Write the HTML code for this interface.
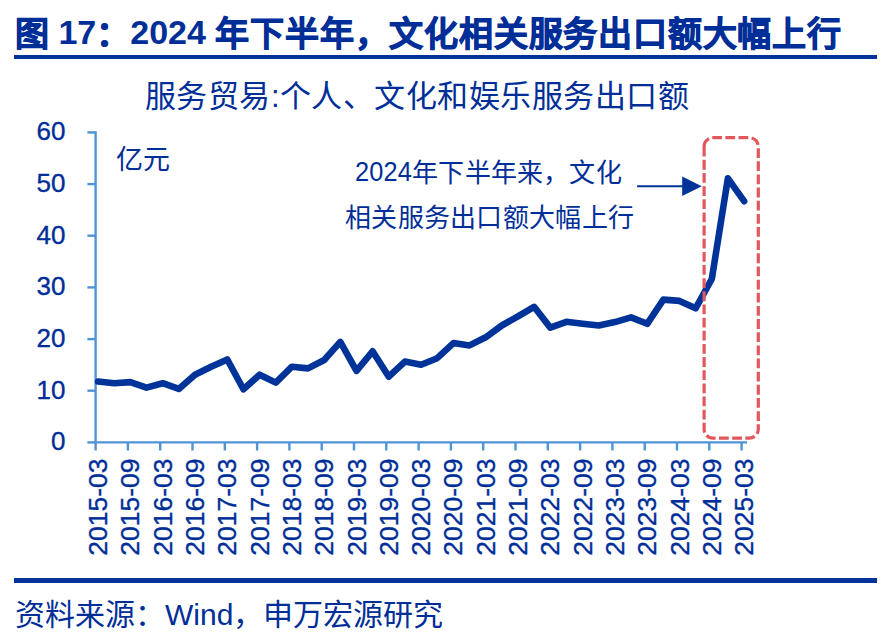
<!DOCTYPE html>
<html lang="zh-CN"><head><meta charset="utf-8"><style>
html,body{margin:0;padding:0;background:#fff;}
body{width:886px;height:644px;position:relative;overflow:hidden;font-family:"Liberation Sans",sans-serif;color:#002E98;}
.t{position:absolute;white-space:nowrap;line-height:1;}
svg text{font-family:"Liberation Sans",sans-serif;fill:#002E98;stroke:#002E98;stroke-width:0.35px;}
.yl{font-size:26px;}
.c{-webkit-text-stroke:0.9px #002E98;position:relative;top:2px;}
.xl{font-size:26.5px;}
</style></head><body>
<div class="t" style="left:15px;top:15px;font-size:34px;font-weight:bold;"><span class="c">图</span> 17<span class="c">：</span>2024 <span class="c" style="letter-spacing:0.8px">年下半年，文化相关服务出口额大幅上行</span></div>
<div style="position:absolute;left:14px;top:55px;width:863px;height:4px;background:#003399;"></div>
<div class="t" style="left:145px;top:81px;font-size:31px;letter-spacing:0.47px;">服务贸易:个人、文化和娱乐服务出口额</div>
<div class="t" style="left:116px;top:147px;font-size:27px;">亿元</div>
<div class="t" style="left:355px;top:157.5px;font-size:26px;letter-spacing:0.2px;"><span style="display:inline-block;font-size:28.5px;transform:scaleX(0.89);transform-origin:0 0;margin-right:-7px;position:relative;top:-1px">2024</span>年下半年来，文化</div>
<div class="t" style="left:345px;top:205px;font-size:26px;letter-spacing:0.3px;">相关服务出口额大幅上行</div>
<svg width="886" height="644" style="position:absolute;left:0;top:0;">
<line x1="95.6" y1="131.3" x2="95.6" y2="443.6" stroke="#5094D5" stroke-width="2.4"/>
<line x1="87.4" y1="442.4" x2="95.6" y2="442.4" stroke="#5094D5" stroke-width="2.4"/>
<text x="65.5" y="450.4" text-anchor="end" class="yl">0</text>
<line x1="87.4" y1="390.7" x2="95.6" y2="390.7" stroke="#5094D5" stroke-width="2.4"/>
<text x="65.5" y="398.7" text-anchor="end" class="yl">10</text>
<line x1="87.4" y1="339.1" x2="95.6" y2="339.1" stroke="#5094D5" stroke-width="2.4"/>
<text x="65.5" y="347.1" text-anchor="end" class="yl">20</text>
<line x1="87.4" y1="287.4" x2="95.6" y2="287.4" stroke="#5094D5" stroke-width="2.4"/>
<text x="65.5" y="295.4" text-anchor="end" class="yl">30</text>
<line x1="87.4" y1="235.7" x2="95.6" y2="235.7" stroke="#5094D5" stroke-width="2.4"/>
<text x="65.5" y="243.7" text-anchor="end" class="yl">40</text>
<line x1="87.4" y1="184.1" x2="95.6" y2="184.1" stroke="#5094D5" stroke-width="2.4"/>
<text x="65.5" y="192.1" text-anchor="end" class="yl">50</text>
<line x1="87.4" y1="132.4" x2="95.6" y2="132.4" stroke="#5094D5" stroke-width="2.4"/>
<text x="65.5" y="140.4" text-anchor="end" class="yl">60</text>
<line x1="94.4" y1="442.4" x2="747.1" y2="442.4" stroke="#5094D5" stroke-width="2.4"/>
<line x1="95.6" y1="442.4" x2="95.6" y2="450.5" stroke="#5094D5" stroke-width="2.4"/>
<text transform="translate(107.1,458.5) rotate(-90)" text-anchor="end" class="xl">2015-03</text>
<line x1="127.9" y1="442.4" x2="127.9" y2="450.5" stroke="#5094D5" stroke-width="2.4"/>
<text transform="translate(139.4,458.5) rotate(-90)" text-anchor="end" class="xl">2015-09</text>
<line x1="160.2" y1="442.4" x2="160.2" y2="450.5" stroke="#5094D5" stroke-width="2.4"/>
<text transform="translate(171.7,458.5) rotate(-90)" text-anchor="end" class="xl">2016-03</text>
<line x1="192.5" y1="442.4" x2="192.5" y2="450.5" stroke="#5094D5" stroke-width="2.4"/>
<text transform="translate(204.0,458.5) rotate(-90)" text-anchor="end" class="xl">2016-09</text>
<line x1="224.8" y1="442.4" x2="224.8" y2="450.5" stroke="#5094D5" stroke-width="2.4"/>
<text transform="translate(236.3,458.5) rotate(-90)" text-anchor="end" class="xl">2017-03</text>
<line x1="257.1" y1="442.4" x2="257.1" y2="450.5" stroke="#5094D5" stroke-width="2.4"/>
<text transform="translate(268.6,458.5) rotate(-90)" text-anchor="end" class="xl">2017-09</text>
<line x1="289.4" y1="442.4" x2="289.4" y2="450.5" stroke="#5094D5" stroke-width="2.4"/>
<text transform="translate(300.9,458.5) rotate(-90)" text-anchor="end" class="xl">2018-03</text>
<line x1="321.7" y1="442.4" x2="321.7" y2="450.5" stroke="#5094D5" stroke-width="2.4"/>
<text transform="translate(333.2,458.5) rotate(-90)" text-anchor="end" class="xl">2018-09</text>
<line x1="354.0" y1="442.4" x2="354.0" y2="450.5" stroke="#5094D5" stroke-width="2.4"/>
<text transform="translate(365.5,458.5) rotate(-90)" text-anchor="end" class="xl">2019-03</text>
<line x1="386.3" y1="442.4" x2="386.3" y2="450.5" stroke="#5094D5" stroke-width="2.4"/>
<text transform="translate(397.8,458.5) rotate(-90)" text-anchor="end" class="xl">2019-09</text>
<line x1="418.6" y1="442.4" x2="418.6" y2="450.5" stroke="#5094D5" stroke-width="2.4"/>
<text transform="translate(430.1,458.5) rotate(-90)" text-anchor="end" class="xl">2020-03</text>
<line x1="450.9" y1="442.4" x2="450.9" y2="450.5" stroke="#5094D5" stroke-width="2.4"/>
<text transform="translate(462.4,458.5) rotate(-90)" text-anchor="end" class="xl">2020-09</text>
<line x1="483.2" y1="442.4" x2="483.2" y2="450.5" stroke="#5094D5" stroke-width="2.4"/>
<text transform="translate(494.7,458.5) rotate(-90)" text-anchor="end" class="xl">2021-03</text>
<line x1="515.5" y1="442.4" x2="515.5" y2="450.5" stroke="#5094D5" stroke-width="2.4"/>
<text transform="translate(527.0,458.5) rotate(-90)" text-anchor="end" class="xl">2021-09</text>
<line x1="547.8" y1="442.4" x2="547.8" y2="450.5" stroke="#5094D5" stroke-width="2.4"/>
<text transform="translate(559.3,458.5) rotate(-90)" text-anchor="end" class="xl">2022-03</text>
<line x1="580.1" y1="442.4" x2="580.1" y2="450.5" stroke="#5094D5" stroke-width="2.4"/>
<text transform="translate(591.6,458.5) rotate(-90)" text-anchor="end" class="xl">2022-09</text>
<line x1="612.4" y1="442.4" x2="612.4" y2="450.5" stroke="#5094D5" stroke-width="2.4"/>
<text transform="translate(623.9,458.5) rotate(-90)" text-anchor="end" class="xl">2023-03</text>
<line x1="644.7" y1="442.4" x2="644.7" y2="450.5" stroke="#5094D5" stroke-width="2.4"/>
<text transform="translate(656.2,458.5) rotate(-90)" text-anchor="end" class="xl">2023-09</text>
<line x1="677.0" y1="442.4" x2="677.0" y2="450.5" stroke="#5094D5" stroke-width="2.4"/>
<text transform="translate(688.5,458.5) rotate(-90)" text-anchor="end" class="xl">2024-03</text>
<line x1="709.3" y1="442.4" x2="709.3" y2="450.5" stroke="#5094D5" stroke-width="2.4"/>
<text transform="translate(720.8,458.5) rotate(-90)" text-anchor="end" class="xl">2024-09</text>
<line x1="741.6" y1="442.4" x2="741.6" y2="450.5" stroke="#5094D5" stroke-width="2.4"/>
<text transform="translate(753.1,458.5) rotate(-90)" text-anchor="end" class="xl">2025-03</text>
<polyline points="98.1,381.5 114.2,383.2 130.4,382.1 146.5,387.6 162.7,383.2 178.8,388.9 195.0,374.7 211.1,366.8 227.3,359.5 243.4,389.3 259.6,374.7 275.8,382.6 291.9,366.7 308.0,368.4 324.2,360.0 340.3,341.9 356.5,370.8 372.6,351.3 388.8,376.7 404.9,361.6 421.1,364.7 437.2,358.2 453.4,343.1 469.5,345.4 485.7,337.3 501.8,325.5 518.0,316.4 534.1,306.8 550.3,327.6 566.4,321.8 582.6,323.7 598.8,325.5 614.9,322.1 631.0,317.4 647.2,323.8 663.4,299.6 679.5,300.9 695.6,308.3 711.8,279.0 727.9,178.3 744.1,201.2" fill="none" stroke="#003399" stroke-width="6.6" stroke-linejoin="round" stroke-linecap="round"/>
<path d="M704.1,146.7 A9,9 0 0 1 713.1,137.7 H749.3 A9,9 0 0 1 758.3,146.7 V429.2 A9,9 0 0 1 749.3,438.2 H713.1 A9,9 0 0 1 704.1,429.2 Z" fill="none" stroke="#E2575C" stroke-width="3.2" stroke-dasharray="9.8 3.35"/>
<line x1="637.1" y1="186.2" x2="684" y2="186.2" stroke="#003399" stroke-width="2"/>
<polygon points="682.2,176.5 701.8,186.2 682.2,195.9" fill="#003399"/>
</svg>
<div style="position:absolute;left:14px;top:578px;width:863px;height:5px;background:#003399;"></div>
<div class="t" style="left:15px;top:600px;font-size:30px;">资料来源：Wind，申万宏源研究</div>
</body></html>
